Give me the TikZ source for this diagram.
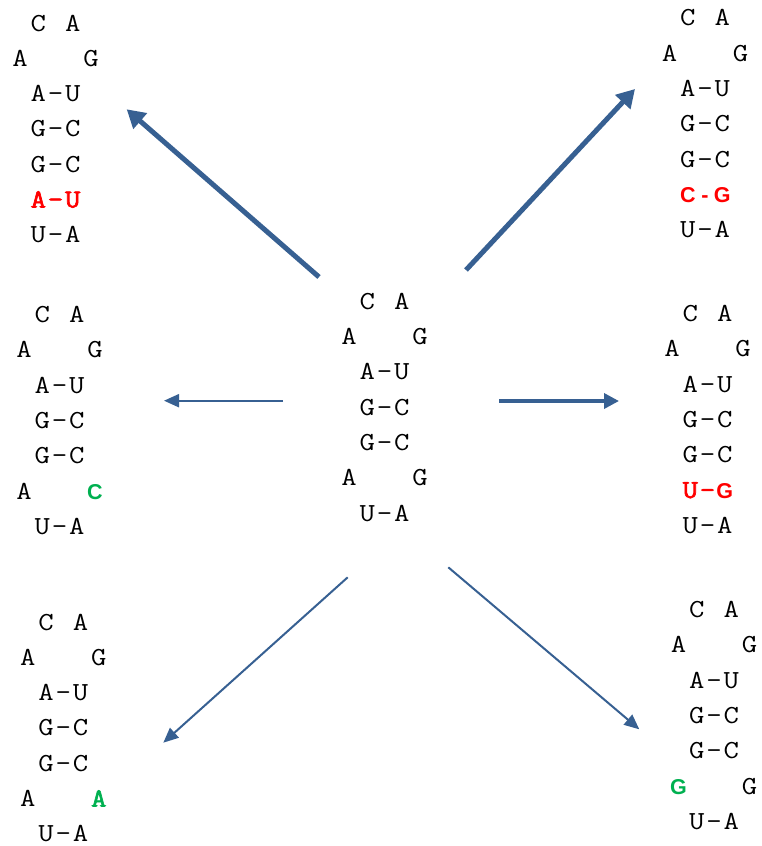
\documentclass[tikz,border=0pt]{standalone}
\usepackage{fontspec}
\newfontfamily\mutsans{Liberation Sans}
\newfontfamily\nucrm{Latin Modern Mono}[FakeStretch=1.15]
\newfontfamily\nucbf{Latin Modern Mono}[FakeStretch=1.15, FakeBold=2.5]
\usetikzlibrary{arrows.meta}
\definecolor{hairpinBlue}{RGB}{55,96,146}
\definecolor{mutRed}{RGB}{255,0,0}
\definecolor{mutGreen}{RGB}{0,176,80}
\tikzset{
    nuc/.style={inner sep=0pt, text height=15pt, text depth=0pt,
                font=\nucrm\fontsize{26}{26}\selectfont},
    nucbold/.style={nuc, font=\nucbf\fontsize{26}{26}\selectfont},
    nucsans/.style={nuc, font=\mutsans\bfseries\fontsize{21.5}{21.5}\selectfont},
    red/.style={text=mutRed},
    green/.style={text=mutGreen},
    arrow/.style={-{Triangle[length=15pt, width=13pt]}, line width=2pt,
                  draw=hairpinBlue},
    bigarrow/.style={arrow, -{Triangle[length=18pt, width=20pt]}, line width=5pt},
}
% stem-loop without its sixth row; #1 name, #2 top of the stem axis
\newcommand{\hairpin}[2]{%
  \begin{scope}[shift={#2}]
    \node[nuc] (#1-0l) at (-17.2,0) {C};
    \node[nuc] (#1-0r) at (17.2,0)  {A};
    \node[nuc] (#1-1l) at (-35.5,35.3) {A};
    \node[nuc] (#1-1r) at (35.5,35.3)  {G};
    \foreach \l/\r [count=\i from 2] in {A/U, G/C, G/C} {
      \node[nuc] (#1-\i l) at (-17.2,35.3*\i) {\l};
      \node[nuc] (#1-\i m) at (0,35.3*\i)     {–};
      \node[nuc] (#1-\i r) at (17.2,35.3*\i)  {\r};
    }
    \coordinate (#1-5) at (0,176.5);
    \node[nuc] (#1-6l) at (-17.2,211.8) {U};
    \node[nuc] (#1-6m) at (0,211.8)     {–};
    \node[nuc] (#1-6r) at (17.2,211.8)  {A};
  \end{scope}}

\begin{document}
\begin{tikzpicture}[x=1pt, y=-1pt]
\useasboundingbox (0,0) rectangle (761,846);

% ─── Tiges-boucles ──────────────────────────────────────────────────────
\hairpin{wt}{(384.5,301.7)}
\hairpin{tl}{(55.5,23.5)}
\hairpin{tr}{(705,18.3)}
\hairpin{ml}{(59.5,315)}
\hairpin{mr}{(707.5,314)}
\hairpin{bl}{(63.3,622.5)}
\hairpin{br}{(714,610)}

% ─── Sixième rangée (variantes) ─────────────────────────────────────────
\node[nuc, xshift=-35.5pt] (wt-5l) at (wt-5) {A};
\node[nuc, xshift=35.5pt]  (wt-5r) at (wt-5) {G};

\node[nucbold, red, xshift=-17.2pt] (tl-5l) at (tl-5) {A};
\node[nucbold, red]                 (tl-5m) at (tl-5) {–};
\node[nucbold, red, xshift=17.2pt]  (tl-5r) at (tl-5) {U};

\node[nucsans, red, xshift=-17.2pt] (tr-5l) at (tr-5) {C};
\node[nucsans, red]                 (tr-5m) at (tr-5) {-};
\node[nucsans, red, xshift=17.2pt]  (tr-5r) at (tr-5) {G};

\node[nuc, xshift=-35.5pt]            (ml-5l) at (ml-5) {A};
\node[nucsans, green, xshift=35.5pt]  (ml-5r) at (ml-5) {C};

\node[nucbold, red, xshift=-17.2pt] (mr-5l) at (mr-5) {U};
\node[nucbold, red]                 (mr-5m) at (mr-5) {–};
\node[nucsans, red, xshift=17.2pt]  (mr-5r) at (mr-5) {G};

\node[nuc, xshift=-35.5pt]            (bl-5l) at (bl-5) {A};
\node[nucbold, green, xshift=35.5pt]  (bl-5r) at (bl-5) {A};

\node[nucsans, green, xshift=-35.5pt] (br-5l) at (br-5) {G};
\node[nuc, xshift=35.5pt]             (br-5r) at (br-5) {G};

% ─── Flèches ────────────────────────────────────────────────────────────
\coordinate (tl-from) at (319,277);   \coordinate (tl-to) at (126.7,109.3);
\coordinate (tr-from) at (466,270);   \coordinate (tr-to) at (635,89);
\coordinate (ml-from) at (283,400.7); \coordinate (ml-to) at (164,400.7);
\coordinate (mr-from) at (499,401);   \coordinate (mr-to) at (619,401);
\coordinate (bl-from) at (347.7,577.3); \coordinate (bl-to) at (163.3,742.7);
\coordinate (br-from) at (448.3,567.3); \coordinate (br-to) at (639.3,729.3);

\draw[bigarrow] (tl-from) -- (tl-to);
\draw[bigarrow] (tr-from) -- (tr-to);
\draw[arrow] (ml-from) -- (ml-to);
\draw[arrow, line width=3.5pt, -{Triangle[length=15pt, width=15pt]}] (mr-from) -- (mr-to);
\draw[arrow] (bl-from) -- (bl-to);
\draw[arrow] (br-from) -- (br-to);

\end{tikzpicture}
\end{document}
